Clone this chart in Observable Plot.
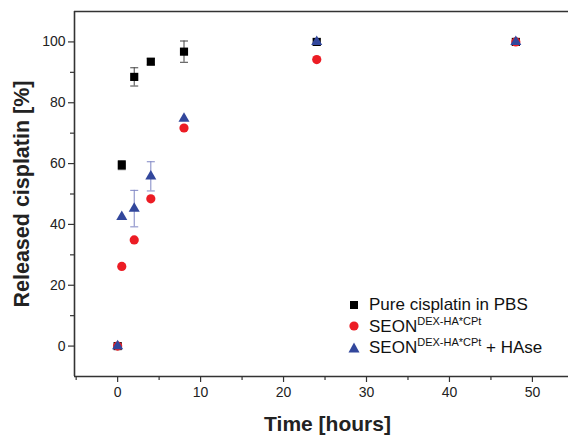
<!DOCTYPE html>
<html><head><meta charset="utf-8">
<script src="https://cdn.jsdelivr.net/npm/d3@7"></script>
<script src="https://cdn.jsdelivr.net/npm/@observablehq/plot@0.6"></script>
<style>
body{margin:0;background:#fff;font-family:"Liberation Sans",Arial,sans-serif;}
#wrap{position:relative;width:568px;height:439px;}
#legend{position:absolute;left:346px;top:294px;font-size:17px;color:#111;line-height:21.5px;}
#legend .row{display:flex;align-items:center;white-space:nowrap;}
#legend svg{width:16px;height:14px;margin-right:7px;flex:none;}
#legend sup{font-size:11px;vertical-align:7px;line-height:0;}
</style></head>
<body><div id="wrap"><div id="legend"></div></div>
<script>
// Data
const seriesNames = ["Pure cisplatin in PBS", "SEON DEX-HA*CPt", "SEON DEX-HA*CPt + HAse"];
const pureTime  = [0, 0.5, 2, 4, 8, 24, 48];
const pureValue = [0, 59.5, 88.5, 93.5, 96.8, 100, 100];
const pureErr   = [0, 1.5, 3.0, 1.0, 3.5, 1.0, 0];
const seonTime  = [0, 0.5, 2, 4, 8, 24, 48];
const seonValue = [0, 26.2, 34.9, 48.4, 71.7, 94.2, 100];
const haseTime  = [0, 0.5, 2, 4, 8, 24, 48];
const haseValue = [0, 42.5, 45.2, 55.8, 74.8, 100, 100];
const haseErr   = [0, 0, 6.0, 4.8, 0, 0, 0];
const xTicks = [0, 10, 20, 30, 40, 50];
const xMinor = [-5, 5, 15, 25, 35, 45];
const yTicks = [0, 20, 40, 60, 80, 100];
const yMinor = [10, 30, 50, 70, 90];

const colors = {pure: "#000000", seon: "#ec1c24", hase: "#32479c", haseErr: "#7f86c4", pureErr: "#444"};

const pure = pureTime.map((t, i) => ({t, v: pureValue[i], e: pureErr[i]}));
const seon = seonTime.map((t, i) => ({t, v: seonValue[i]}));
const hase = haseTime.map((t, i) => ({t, v: haseValue[i], e: haseErr[i]}));
const pureE = pure.filter(d => d.e > 0);
const haseE = hase.filter(d => d.e > 0);
const capLo = arr => arr.map(d => ({t: d.t, v: d.v - d.e}));
const capHi = arr => arr.map(d => ({t: d.t, v: d.v + d.e}));

const capSymbol = {draw(ctx, size) { const r = Math.sqrt(size / Math.PI); ctx.moveTo(-r, 0); ctx.lineTo(r, 0); }};

const xDomain = [-5.2, 54.35];
const yDomain = [-10, 110];
const axisColor = "#333";

const chart = Plot.plot({
  width: 568, height: 439,
  marginLeft: 74, marginRight: 0, marginTop: 11, marginBottom: 63,
  x: {domain: xDomain}, y: {domain: yDomain},
  style: {fontFamily: "'Liberation Sans', Arial, sans-serif", color: "#222", background: "#fff"},
  marks: [
    // frame lines
    Plot.ruleX([xDomain[0]], {stroke: axisColor, strokeWidth: 1.6}),
    Plot.ruleY([yDomain[0], yDomain[1]], {stroke: axisColor, strokeWidth: 1.6}),
    // axes
    Plot.axisX({ticks: xTicks, tickSize: 6, tickPadding: 5, fontSize: 14, label: null, stroke: axisColor, strokeWidth: 1.2}),
    Plot.axisX({ticks: xMinor, tickSize: 4, tickFormat: () => "", label: null, stroke: axisColor, strokeWidth: 1.2}),
    Plot.axisY({ticks: yTicks, tickSize: 6, tickPadding: 3, fontSize: 14, label: null, stroke: axisColor, strokeWidth: 1.2}),
    Plot.axisY({ticks: yMinor, tickSize: 4, tickFormat: () => "", label: null, stroke: axisColor, strokeWidth: 1.2}),
    // axis titles
    Plot.text(["Time [hours]"], {frameAnchor: "bottom", textAnchor: "middle", dx: 6, dy: 54, fontSize: 21, fontWeight: "bold", fill: "#222"}),
    Plot.text(["Released cisplatin [%]"], {frameAnchor: "left", textAnchor: "middle", dx: -52, rotate: -90, fontSize: 21.5, fontWeight: "bold", fill: "#222"}),
    // error bars: pure
    Plot.ruleX(pureE, {x: "t", y1: d => d.v - d.e, y2: d => d.v + d.e, stroke: colors.pureErr, strokeWidth: 1}),
    Plot.dot(capLo(pureE), {x: "t", y: "v", symbol: capSymbol, r: 4, stroke: colors.pureErr, fill: "none", strokeWidth: 1}),
    Plot.dot(capHi(pureE), {x: "t", y: "v", symbol: capSymbol, r: 4, stroke: colors.pureErr, fill: "none", strokeWidth: 1}),
    // error bars: hase
    Plot.ruleX(haseE, {x: "t", y1: d => d.v - d.e, y2: d => d.v + d.e, stroke: colors.haseErr, strokeWidth: 1}),
    Plot.dot(capLo(haseE), {x: "t", y: "v", symbol: capSymbol, r: 4, stroke: colors.haseErr, fill: "none", strokeWidth: 1}),
    Plot.dot(capHi(haseE), {x: "t", y: "v", symbol: capSymbol, r: 4, stroke: colors.haseErr, fill: "none", strokeWidth: 1}),
    // points
    Plot.dot(pure, {x: "t", y: "v", symbol: "square", r: 4.6, fill: colors.pure, stroke: "none"}),
    Plot.dot(seon, {x: "t", y: "v", symbol: "circle", r: 4.6, fill: colors.seon, stroke: "none"}),
    Plot.dot(hase, {x: "t", y: "v", symbol: "triangle", r: 4.1, fill: colors.hase, stroke: "none"})
  ]
});
document.getElementById("wrap").prepend(chart);

// Legend
const legendItems = [
  {sym: '<rect x="4" y="3" width="8" height="8" fill="' + colors.pure + '"/>', html: "Pure cisplatin in PBS"},
  {sym: '<circle cx="8" cy="7" r="4.6" fill="' + colors.seon + '"/>', html: "SEON<sup>DEX-HA*CPt</sup>"},
  {sym: '<path d="M8,1.5 L13.5,11.5 L2.5,11.5 Z" fill="' + colors.hase + '"/>', html: "SEON<sup>DEX-HA*CPt</sup> + HAse"}
];
document.getElementById("legend").innerHTML = legendItems.map(it =>
  '<div class="row"><svg viewBox="0 0 16 14">' + it.sym + '</svg><span>' + it.html + '</span></div>').join("");
</script></body></html>
